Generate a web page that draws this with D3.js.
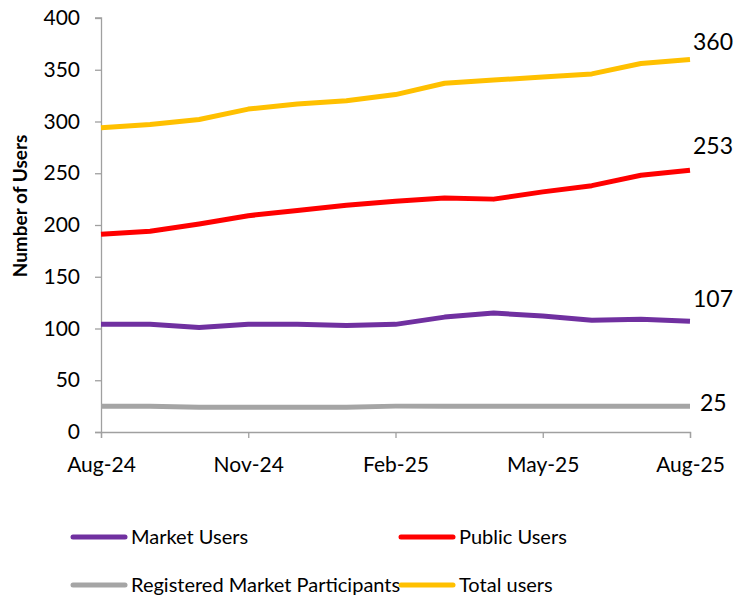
<!DOCTYPE html>
<html><head><meta charset="utf-8">
<script src="https://cdn.jsdelivr.net/npm/d3@7"></script>
<style>body{margin:0;background:#fff;} svg{display:block;font-family:Lato,"Open Sans",sans-serif;}</style>
</head><body>
<svg id="c" width="738" height="598"></svg>
<script>
const months = ["Aug-24","Sep-24","Oct-24","Nov-24","Dec-24","Jan-25","Feb-25","Mar-25","Apr-25","May-25","Jun-25","Jul-25","Aug-25"];
const tickMonths = ["Aug-24","Nov-24","Feb-25","May-25","Aug-25"];
const yTicks = [0,50,100,150,200,250,300,350,400];
const marketUsers = [104,104,101,104,104,103,104,111,115,112,108,109,107];
const publicUsers = [191,194,201,209,214,219,223,226,225,232,238,248,253];
const registeredParticipants = [25,25,24,24,24,24,25,25,25,25,25,25,25];
const totalUsers = [294,297,302,312,317,320,326,337,340,343,346,356,360];
const seriesNames = ["Market Users","Public Users","Registered Market Participants","Total users"];
const seriesColors = ["#7030A0","#FF0000","#A5A5A5","#FFC000"];

const series = [
  {name:seriesNames[0], values:marketUsers, color:seriesColors[0], lab:[3,-23]},
  {name:seriesNames[1], values:publicUsers, color:seriesColors[1], lab:[3,-24]},
  {name:seriesNames[2], values:registeredParticipants, color:seriesColors[2], lab:[10,-3]},
  {name:seriesNames[3], values:totalUsers, color:seriesColors[3], lab:[3,-18]}
];

const svg = d3.select("#c");
const x = d3.scalePoint().domain(months).range([101,690]);
const y = d3.scaleLinear().domain([0,400]).range([432,18]);
const axisColor = "#A0A0A0";
const ff = "Lato,'Open Sans',sans-serif";

const gy = svg.append("g").attr("transform","translate(101,0)")
  .call(d3.axisLeft(y).tickValues(yTicks).tickSize(6).tickPadding(15));
const gx = svg.append("g").attr("transform","translate(0,432)")
  .call(d3.axisBottom(x).tickValues(tickMonths).tickSize(6).tickPadding(19));
[gx,gy].forEach(g=>{
  g.select(".domain").attr("stroke",axisColor).attr("stroke-width",1.3);
  g.selectAll(".tick line").attr("stroke",axisColor).attr("stroke-width",1.3);
  g.selectAll(".tick text").attr("fill","#000").style("font-size","21px").style("font-family",ff);
});
gy.select(".domain").attr("d","M-6,432.5H0.5V18H-6");

svg.append("text").attr("transform","translate(27,206) rotate(-90)")
  .attr("text-anchor","middle").style("font-size","19px").style("font-weight","bold")
  .text("Number of Users");

const line = d3.line().x((d,i)=>x(months[i])).y(d=>y(d));
series.forEach(s=>{
  svg.append("path").datum(s.values).attr("d",line)
    .attr("fill","none").attr("stroke",s.color).attr("stroke-width",5)
    .attr("stroke-linejoin","round");
  const last = s.values[s.values.length-1];
  svg.append("text").attr("x",x(months[months.length-1])+s.lab[0])
    .attr("y",y(last)+s.lab[1]).attr("dy","0.36em")
    .style("font-size","23px").attr("fill","#000").text(last);
});

const legPos = [[73,537],[401,537],[73,585],[401,585]];
series.forEach((s,i)=>{
  const [lx,ly] = legPos[i];
  svg.append("line").attr("x1",lx).attr("x2",lx+52).attr("y1",ly).attr("y2",ly)
    .attr("stroke",s.color).attr("stroke-width",5).attr("stroke-linecap","round");
  svg.append("text").attr("x",lx+58).attr("y",ly).attr("dy","0.36em")
    .style("font-size","20px").attr("fill","#000").text(s.name);
});
</script>
</body></html>
